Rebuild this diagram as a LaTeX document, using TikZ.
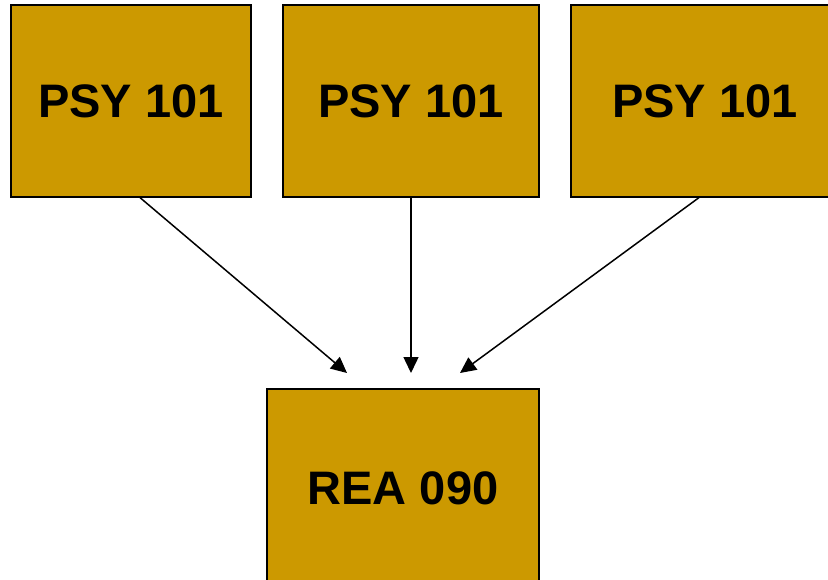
\documentclass[tikz,border=0pt]{standalone}
\usepackage{fontspec}
\setmainfont{Liberation Sans}
\usetikzlibrary{arrows.meta}
\definecolor{boxgold}{HTML}{CC9900}
\tikzset{
  course/.style={draw=black, line width=1.2pt, fill=boxgold, inner sep=0pt, font=\fontsize{47}{51}\selectfont\bfseries},
  link/.style={line width=1.5pt, -{Triangle[length=16pt,width=15pt]}}
}
\begin{document}
\begin{tikzpicture}[x=1pt,y=-1pt]
\useasboundingbox (0,0) rectangle (828,580);
\begin{scope}
\clip (0,0) rectangle (828,580);
\node[course, minimum width=240pt, minimum height=192pt] (a) at (131,101) {PSY 101};
\node[course, minimum width=256pt, minimum height=192pt] (b) at (411,101) {PSY 101};
\node[course, minimum width=268pt, minimum height=192pt] (c) at (705,101) {PSY 101};
\node[course, minimum width=272pt, minimum height=198pt] (d) at (403,488) {REA 090};
\end{scope}
\coordinate (ta) at (347,373);
\coordinate (tb) at (411,373);
\coordinate (tc) at (460,373);
\draw[link] ([xshift=9pt]a.south) -- (ta);
\draw[link] (b.south) -- (tb);
\draw[link] ([xshift=-6pt]c.south) -- (tc);
\end{tikzpicture}
\end{document}
